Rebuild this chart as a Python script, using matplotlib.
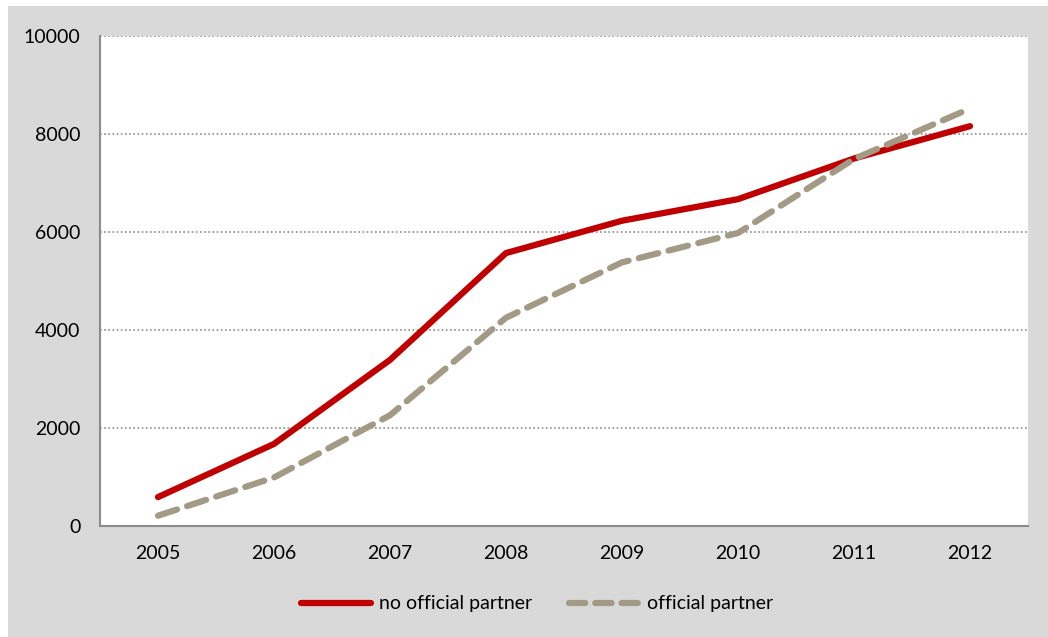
import matplotlib
matplotlib.use("Agg")
import matplotlib.pyplot as plt
from matplotlib.patches import Rectangle
from matplotlib.lines import Line2D

years = ["2005", "2006", "2007", "2008", "2009", "2010", "2011", "2012"]
no_official = [590, 1675, 3390, 5570, 6230, 6670, 7500, 8160]
official = [210, 990, 2260, 4250, 5380, 5980, 7490, 8520]
yticks = [0, 2000, 4000, 6000, 8000, 10000]

plt.rcParams['font.family'] = ['Lato', 'DejaVu Sans']

W, H = 1048, 637
fig = plt.figure(figsize=(W / 100, H / 100), dpi=100, facecolor="white")
fig.patches.append(Rectangle((8 / W, 0), 1 - 8 / W, 1 - 6 / H, transform=fig.transFigure,
                             facecolor="#d9d9d9", edgecolor="none", zorder=-10))

left, right, top, bottom = 100, 1028, 36, 526
ax = fig.add_axes([left / W, 1 - bottom / H, (right - left) / W, (bottom - top) / H])
ax.set_zorder(5)
ax.set_facecolor("white")

x = list(range(len(years)))
ax.plot(x, no_official, color="#c00000", lw=4.5, solid_capstyle="round", solid_joinstyle="round", zorder=3)
ax.plot(x, official, color="#a29a84", lw=4.5, dashes=(3.2, 1.7), dash_capstyle="round",
        solid_joinstyle="round", zorder=3)

ax.set_xlim(-0.5, len(years) - 0.5)
ax.set_ylim(0, 10000)
ax.set_yticks(yticks)
ax.set_yticklabels([str(v) for v in yticks])
ax.set_xticks(x)
ax.set_xticklabels(years)
ax.tick_params(axis="both", length=0, labelsize=14, colors="black")
ax.tick_params(axis="y", pad=14)
ax.tick_params(axis="x", pad=13.5)
for t in yticks[1:]:
    ax.axhline(t, color="#8c8c8c", lw=1.2, ls=(0, (1, 1.5)), zorder=1)
for s in ["top", "right"]:
    ax.spines[s].set_visible(False)
for s in ["left", "bottom"]:
    ax.spines[s].set_color("#8c8c8c")
    ax.spines[s].set_linewidth(1.5)

handles = [Line2D([], [], color="#c00000", lw=4.5, solid_capstyle="round"),
           Line2D([], [], color="#a29a84", lw=4.5, dashes=(2.6, 1.6), dash_capstyle="round")]
leg = fig.legend(handles, ["no official partner", "official partner"], loc="center",
                 bbox_to_anchor=(537 / W, 1 - 604 / H), ncol=2, frameon=False, fontsize=14,
                 handlelength=3.6, handletextpad=0.4, columnspacing=1.9)

fig.savefig("out.png", dpi=100, facecolor=fig.get_facecolor())
